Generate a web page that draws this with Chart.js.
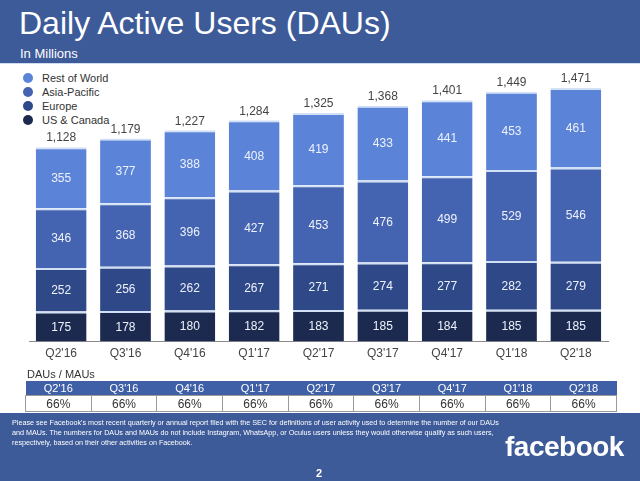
<!DOCTYPE html>
<html>
<head>
<meta charset="utf-8">
<script src="https://cdn.jsdelivr.net/npm/chart.js@4.4.1/dist/chart.umd.min.js"></script>
<style>
  body { margin: 0; width: 640px; height: 481px; overflow: hidden; background: #fff;
         font-family: "Liberation Sans", Arial, sans-serif; position: relative; }
  .band { position: absolute; left: 0; width: 640px; background: #3d5a99; color: #fff; }
  #head { top: 0; height: 63px; border-bottom: 1px solid #cfdcf0; }
  #title { position: absolute; left: 19px; top: 5px; font-size: 32px; white-space: nowrap; }
  #sub { position: absolute; left: 20px; top: 46px; font-size: 13px; }
  #legend { position: absolute; left: 23px; top: 71px; font-size: 11px; color: #333; }
  #legend div { height: 14px; line-height: 14px; white-space: nowrap; }
  #legend span { display: inline-block; width: 10px; height: 10px; border-radius: 50%;
                 vertical-align: -1px; margin-right: 9px; }
  #cv { position: absolute; left: 0; top: 63px; }
  #ratioLbl { position: absolute; left: 27px; top: 368px; font-size: 11px; color: #333; }
  #ratio { position: absolute; left: 25px; top: 381px; border-collapse: collapse; font-size: 12px;
           table-layout: fixed; width: 592px; }
  #ratio td { text-align: center; padding: 0; height: 14px; line-height: 14px; }
  #ratio tr.h td { background: #3f5fa6; color: #fff; font-size: 11px; }
  #ratio tr.v td { border: 1px solid #9a9a9a; color: #333; height: 15px; }
  #foot { top: 413px; height: 68px; }
  #note { position: absolute; left: 12px; top: 5px; font-size: 7.2px; line-height: 10px; white-space: nowrap; }
  #page { position: absolute; left: 316px; top: 54px; font-size: 11px; font-weight: bold; }
  #logo { position: absolute; left: 505px; top: 18px; font-size: 28px; font-weight: bold; letter-spacing: -0.5px; }
</style>
</head>
<body>
<div class="band" id="head">
  <div id="title">Daily Active Users (DAUs)</div>
  <div id="sub">In Millions</div>
</div>
<div id="legend"></div>
<canvas id="cv" width="640" height="310"></canvas>
<div id="ratioLbl">DAUs / MAUs</div>
<table id="ratio"><tr class="h"></tr><tr class="v"></tr></table>
<div class="band" id="foot">
  <div id="note">Please see Facebook's most recent quarterly or annual report filed with the SEC for definitions of user activity used to determine the number of our DAUs<br>and MAUs. The numbers for DAUs and MAUs do not include Instagram, WhatsApp, or Oculus users unless they would otherwise qualify as such users,<br>respectively, based on their other activities on Facebook.</div>
  <div id="logo">facebook</div>
  <div id="page">2</div>
</div>
<script>
const quarters = ["Q2'16", "Q3'16", "Q4'16", "Q1'17", "Q2'17", "Q3'17", "Q4'17", "Q1'18", "Q2'18"];
const usCanada = [175, 178, 180, 182, 183, 185, 184, 185, 185];
const europe = [252, 256, 262, 267, 271, 274, 277, 282, 279];
const asiaPacific = [346, 368, 396, 427, 453, 476, 499, 529, 546];
const restOfWorld = [355, 377, 388, 408, 419, 433, 441, 453, 461];
const totals = [1128, 1179, 1227, 1284, 1325, 1368, 1401, 1449, 1471];
const dauMau = ["66%", "66%", "66%", "66%", "66%", "66%", "66%", "66%", "66%"];

const series = [
  { label: 'US & Canada', data: usCanada, color: '#1c2a50' },
  { label: 'Europe', data: europe, color: '#2e4888' },
  { label: 'Asia-Pacific', data: asiaPacific, color: '#4464b1' },
  { label: 'Rest of World', data: restOfWorld, color: '#5b83d8' }
];

// legend, top series first
const legend = document.getElementById('legend');
series.slice().reverse().forEach(s => {
  const d = document.createElement('div');
  d.innerHTML = '<span style="background:' + s.color + '"></span>' + s.label;
  legend.appendChild(d);
});

// DAU/MAU table
const hRow = document.querySelector('#ratio tr.h');
const vRow = document.querySelector('#ratio tr.v');
quarters.forEach((q, i) => {
  hRow.insertAdjacentHTML('beforeend', '<td>' + q + '</td>');
  vRow.insertAdjacentHTML('beforeend', '<td>' + dauMau[i] + '</td>');
});

const barLabels = {
  id: 'barLabels',
  afterDatasetsDraw(chart) {
    const ctx = chart.ctx;
    ctx.save();
    ctx.textAlign = 'center';
    ctx.textBaseline = 'middle';
    ctx.font = '12px "Liberation Sans", Arial, sans-serif';
    chart.data.datasets.forEach((ds, di) => {
      const meta = chart.getDatasetMeta(di);
      meta.data.forEach((bar, i) => {
        const p = bar.getProps(['x', 'y', 'base'], true);
        ctx.fillStyle = '#eef2fb';
        ctx.fillText(ds.data[i], p.x, (p.y + p.base) / 2 + 1);
        if (di === chart.data.datasets.length - 1) {
          ctx.fillStyle = '#444';
          ctx.fillText(totals[i].toLocaleString('en-US'), p.x, p.y - 9);
        }
      });
    });
    ctx.restore();
  }
};

new Chart(document.getElementById('cv'), {
  type: 'bar',
  data: {
    labels: quarters,
    datasets: series.map(s => ({
      label: s.label,
      data: s.data,
      backgroundColor: s.color,
      borderColor: '#d2e0f6',
      borderWidth: { top: 2, right: 0, bottom: 0, left: 0 },
      borderSkipped: false,
      categoryPercentage: 1,
      barPercentage: 0.79
    }))
  },
  options: {
    responsive: false,
    animation: false,
    layout: { padding: { left: 29, right: 32, top: 8, bottom: 7 } },
    plugins: { legend: { display: false }, tooltip: { enabled: false } },
    scales: {
      x: {
        stacked: true,
        grid: { display: false, drawTicks: false },
        border: { display: true, color: '#8a8a8a', width: 1 },
        ticks: { color: '#444', font: { size: 12, family: '"Liberation Sans", Arial, sans-serif' }, padding: 5 }
      },
      y: { stacked: true, display: false, min: 0, max: 1570 }
    }
  },
  plugins: [barLabels]
});
</script>
</body>
</html>
